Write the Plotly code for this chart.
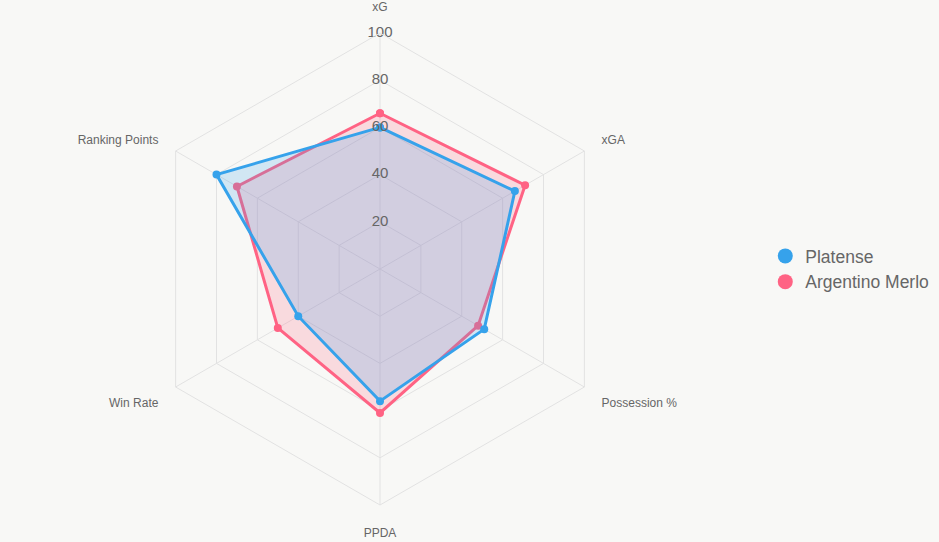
import plotly.graph_objects as go

categories = ["xG", "xGA", "Possession %", "PPDA", "Win Rate", "Ranking Points"]
platense = [60, 66, 51, 56, 40, 80]
argentino = [66, 71, 48, 61, 50, 70]
radial_ticks = [20, 40, 60, 80, 100]

series = [
    ("Platense", platense, "#36A2EB", "rgba(54,162,235,0.2)"),
    ("Argentino Merlo", argentino, "#FF6384", "rgba(255,99,132,0.2)"),
]

fig = go.Figure()

def closed(v):
    return v + v[:1]

# draw later series first so the first series lies on top
for name, vals, col, fill in reversed(series):
    fig.add_trace(go.Scatterpolar(
        r=closed(vals), theta=closed(categories), name=name,
        mode="lines+markers", fill="toself", fillcolor=fill,
        line=dict(color=col, width=3),
        marker=dict(color=col, size=8),
        showlegend=False,
    ))

# legend entries (circle markers only)
for i, (name, vals, col, fill) in enumerate(series):
    fig.add_trace(go.Scatterpolar(
        r=[None], theta=[None], name=name, mode="markers",
        marker=dict(color=col, size=15),
        legendrank=i + 1, hoverinfo="skip",
    ))

# radial tick labels drawn along the top spoke
fig.add_trace(go.Scatterpolar(
    r=radial_ticks, theta=[categories[0]] * len(radial_ticks),
    mode="text", text=[str(t) for t in radial_ticks],
    textfont=dict(family="Arial, Liberation Sans, sans-serif", size=15, color="#666"),
    showlegend=False, hoverinfo="skip",
))

fig.update_layout(
    width=939, height=542,
    paper_bgcolor="#f8f8f6", plot_bgcolor="#f8f8f6",
    margin=dict(l=0, r=0, t=33, b=37),
    font=dict(family="Arial, Liberation Sans, sans-serif", color="#666"),
    polar=dict(
        domain=dict(x=[0, 760 / 939], y=[0, 1]),
        bgcolor="rgba(0,0,0,0)",
        gridshape="linear",
        radialaxis=dict(
            range=[0, 100], tickvals=radial_ticks, showticklabels=False,
            ticks="", showline=False, gridcolor="#e2e2e2", gridwidth=1,
            angle=90,
        ),
        angularaxis=dict(
            direction="clockwise", rotation=90,
            categoryorder="array", categoryarray=categories,
            gridcolor="#e2e2e2", linecolor="#e2e2e2", linewidth=1,
            ticks="outside", ticklen=17, tickcolor="rgba(0,0,0,0)",
            tickfont=dict(size=12, color="#666"),
        ),
    ),
    legend=dict(
        x=0.815, y=0.5, xanchor="left", yanchor="middle",
        font=dict(size=17.5, color="#666"),
        bgcolor="rgba(0,0,0,0)", itemwidth=30,
        tracegroupgap=0,
    ),
)

fig.write_html("out.html")
